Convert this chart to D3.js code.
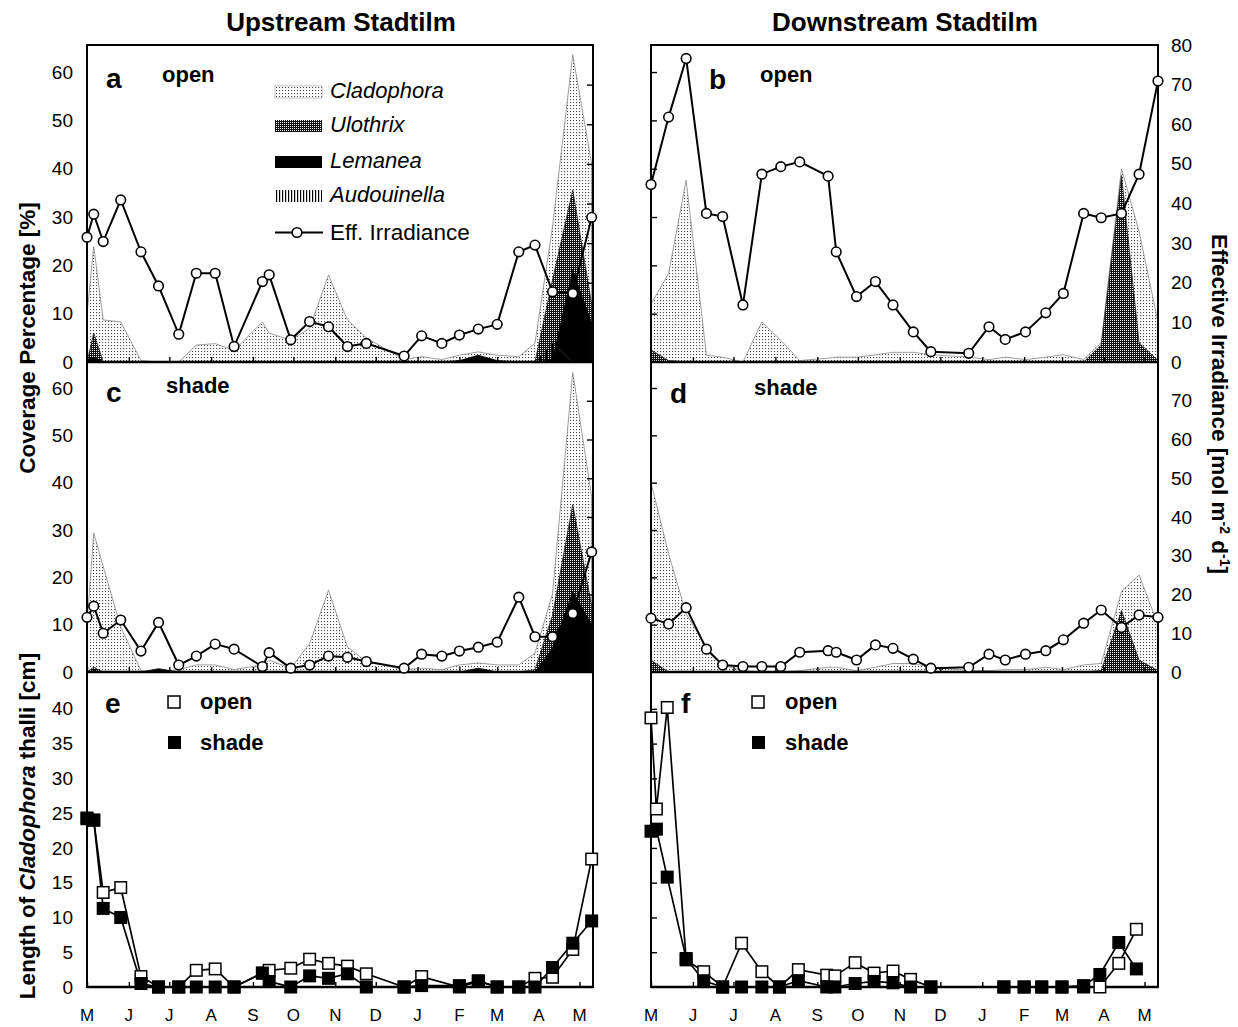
<!DOCTYPE html>
<html>
<head>
<meta charset="utf-8">
<script src="https://cdn.jsdelivr.net/npm/d3@7"></script>
<style>
html,body{margin:0;padding:0;background:#fff;}
svg{display:block;font-family:"Liberation Sans",Arial,Helvetica,sans-serif;}
</style>
</head>
<body>
<svg id="chart" width="1238" height="1027"></svg>
<script>
// ---------------- data ----------------
const monthLabels = ["M","J","J","A","S","O","N","D","J","F","M","A","M"];
const monthStarts = ["1997-05-01","1997-06-01","1997-07-01","1997-08-01","1997-09-01","1997-10-01",
  "1997-11-01","1997-12-01","1998-01-01","1998-02-01","1998-03-01","1998-04-01","1998-05-01"];
const axisStart = "1997-05-01";
const axisEnd = "1998-05-11";

// sampling dates upstream (panels a, c)
const upDates = ["1997-05-01","1997-05-06","1997-05-13","1997-05-26","1997-06-10","1997-06-23","1997-07-08",
  "1997-07-21","1997-08-04","1997-08-18","1997-09-08","1997-09-13","1997-09-29","1997-10-13","1997-10-27",
  "1997-11-10","1997-11-24","1997-12-22","1998-01-04","1998-01-19","1998-02-01","1998-02-15","1998-03-01",
  "1998-03-17","1998-03-29","1998-04-11","1998-04-26","1998-05-10"];
// sampling dates downstream (panels b, d)
const downDates = ["1997-05-01","1997-05-14","1997-05-27","1997-06-11","1997-06-23","1997-07-08","1997-07-22",
  "1997-08-05","1997-08-19","1997-09-09","1997-09-15","1997-09-30","1997-10-14","1997-10-27","1997-11-11",
  "1997-11-24","1997-12-22","1998-01-06","1998-01-18","1998-02-02","1998-02-17","1998-03-02","1998-03-17",
  "1998-03-30","1998-04-14","1998-04-27","1998-05-11"];
// thallus length dates (panel e, f)
const lenUpDates = ["1997-05-01","1997-05-06","1997-05-13","1997-05-26","1997-06-10","1997-06-23","1997-07-08",
  "1997-07-21","1997-08-04","1997-08-18","1997-09-08","1997-09-13","1997-09-29","1997-10-13","1997-10-27",
  "1997-11-10","1997-11-24","1997-12-22","1998-01-04","1998-02-01","1998-02-15","1998-03-01",
  "1998-03-17","1998-03-29","1998-04-11","1998-04-26","1998-05-10"];
const lenDownDates = ["1997-05-01","1997-05-05","1997-05-13","1997-05-27","1997-06-09","1997-06-23","1997-07-07",
  "1997-07-22","1997-08-04","1997-08-18","1997-09-08","1997-09-14","1997-09-29","1997-10-13","1997-10-27",
  "1997-11-09","1997-11-24","1998-01-17","1998-02-01","1998-02-14","1998-03-01","1998-03-17","1998-03-29",
  "1998-04-12","1998-04-25"];

// effective irradiance [mol m-2 d-1]
const irrA = [31.5,37.3,30.4,40.9,27.8,19.2,7.0,22.4,22.4,3.9,20.3,22.0,5.6,10.2,8.9,3.9,4.7,1.5,6.6,4.7,6.8,8.3,9.5,27.8,29.5,17.7,17.3,36.5];
const irrC = [14.1,17.0,10.0,13.4,5.4,12.8,1.8,4.1,7.2,5.9,1.4,5.0,1.0,1.8,4.1,3.8,2.7,1.0,4.6,4.1,5.4,6.4,7.7,19.3,9.1,9.1,15.1,31.0];
const irrB = [44.8,61.8,76.6,37.5,36.7,14.4,47.4,49.3,50.5,46.9,27.8,16.5,20.3,14.4,7.6,2.6,2.2,8.9,5.7,7.6,12.4,17.3,37.5,36.4,37.5,47.4,70.9];
const irrD = [13.9,12.4,16.6,5.9,1.8,1.4,1.4,1.4,5.1,5.5,5.1,3.1,7.0,6.1,3.3,1.0,1.2,4.6,3.1,4.6,5.5,8.3,12.6,16.0,11.5,14.7,14.1];

// coverage [%]
const cladA = [10,23.9,8.7,8.3,0.3,0,0,3.5,3.8,2.4,8.3,6,4.5,7,18,8.7,5,0.5,1.1,0.5,1.4,2.1,1.4,1.1,3.9,28,63.6,41];
const ulotA = [0,6,0,0,0,0,0,0,0,0,0,0,0,0,0,0,0,0,0,0,0,0,0,0,0,17,35.6,12];
const lemA  = [0.5,1,0,0,0,0,0,0,0,0,0,0,0,0,0,0,0,0,0,0,0.3,1.4,0.3,0,0,0.5,19,8];
const audA  = [0,0,0,0,0,0,0,0,0,0,0,0,0,0,0,0,0,0,0,0,0,0,0,0,0,4,0,0];
const cladC = [10,29.4,22.3,9.5,0.3,0,0.5,1.5,1.5,0.5,1.5,2.5,0.8,6,17.3,5.3,2.2,0.5,0.8,0.5,1.5,1.9,1.5,1.5,4,16.5,63.3,37];
const ulotC = [0,1,0,0,0,0,0,0,0,0,0,0,0,0,0,0,0,0,0,0,0,0,0,0,0.5,12,35.4,14];
const lemC  = [0,0.3,0,0,0,0.7,0,0,0,0,0,0,0,0,0,0,0,0,0,0,0,0.8,0,0,0,5,17,10];
const cladB = [12,18.3,37.6,1.4,1,0,8.3,4.5,0.3,0.8,1,1,1.5,2,2,1.5,1,0.5,1,0.5,1,1.5,0.5,4,40,27,8.3];
const ulotB = [2.5,0.3,0,0,0,0,0,0,0,0,0,0,0,0,0,0,0,0,0,0,0,0,0,3.5,38.6,4,0.3];
const cladD = [40,25,12.3,5.3,1.4,0.3,0,0,0.3,1,1,0.3,1,1.8,1.8,1,0.3,0.3,0.5,0.5,1,0.5,1.5,1.8,17,20.5,10];
const ulotD = [2.5,0,0,0,0,0,0,0,0,0,0,0,0,0,0,0,0,0,0,0,0,0,0,0.3,13,2.5,0.3];

// length of Cladophora thalli [cm]
const lenOpenE  = [24.2,24.0,13.6,14.3,1.5,0,0,2.4,2.6,0,2.0,2.4,2.7,4.0,3.4,3.0,1.9,0,1.5,0,0.8,0,0,1.25,1.4,5.4,18.4];
const lenShadeE = [24.3,24.0,11.3,10.0,0.5,0,0,0,0,0,2.0,0.8,0,1.6,1.25,1.9,0,0,0.2,0.2,0.9,0,0,0,2.8,6.3,9.5];
const lenOpenF  = [38.7,25.6,40.2,3.9,2.2,0,6.3,2.2,0,2.5,1.7,1.6,3.5,2.0,2.3,1.1,0,0,0,0,0,0,0,3.4,8.3];
const lenShadeF = [22.4,22.7,15.8,4.1,0.9,0,0,0,0,0.9,0,0,0.5,0.8,0.6,0,0,0,0,0,0,0.2,1.8,6.4,2.6];

const covTicks = [0,10,20,30,40,50,60];
const irrTicksTop = [0,10,20,30,40,50,60,70,80];
const irrTicksMid = [0,10,20,30,40,50,60,70];
const lenTicks = [0,5,10,15,20,25,30,35,40];

// ---------------- layout ----------------
const parse = d3.timeParse("%Y-%m-%d");
const svg = d3.select("#chart");
svg.append("rect").attr("width",1238).attr("height",1027).attr("fill","#fff");

const cols = [{x0:87,x1:593},{x0:651,x1:1158}];
const rows = [{y0:45,y1:362},{y0:362,y1:672},{y0:672,y1:987}];

const defs = svg.append("defs");
const pDots = defs.append("pattern").attr("id","dots").attr("patternUnits","userSpaceOnUse").attr("width",3).attr("height",3);
pDots.append("rect").attr("width",3).attr("height",3).attr("fill","#fff");
pDots.append("rect").attr("width",1.1).attr("height",1.1).attr("fill","#4a4a4a");
const pCross = defs.append("pattern").attr("id","cross").attr("patternUnits","userSpaceOnUse").attr("width",2).attr("height",2);
pCross.append("rect").attr("width",2).attr("height",2).attr("fill","#111");
pCross.append("rect").attr("width",1).attr("height",1).attr("fill","#fff");
const pVert = defs.append("pattern").attr("id","vert").attr("patternUnits","userSpaceOnUse").attr("width",3).attr("height",3);
pVert.append("rect").attr("width",1.2).attr("height",3).attr("fill","#000");

function xScale(c){ return d3.scaleTime().domain([parse(axisStart), parse(axisEnd)]).range([cols[c].x0, cols[c].x1]); }

let clipN = 0;
function clipFor(c,r){
  const id = "clip"+(clipN++);
  defs.append("clipPath").attr("id",id).append("rect")
    .attr("x",cols[c].x0).attr("y",rows[r].y0).attr("width",cols[c].x1-cols[c].x0).attr("height",rows[r].y1-rows[r].y0);
  return "url(#"+id+")";
}

function drawAreas(c, r, dates, yc, series){
  const xs = xScale(c);
  const g = svg.append("g").attr("clip-path", clipFor(c,r));
  series.forEach(s=>{
    const pts = dates.map((d,i)=>({d:parse(d), v:s.vals[i]}));
    g.append("path").datum(pts)
      .attr("d", d3.area().x(p=>xs(p.d)).y0(yc(0)).y1(p=>yc(p.v)))
      .attr("fill", s.fill).attr("stroke", s.stroke).attr("stroke-width", 0.8);
  });
}

function drawIrr(c, dates, yi, vals){
  const xs = xScale(c);
  const pts = dates.map((d,i)=>({d:parse(d), v:vals[i]}));
  svg.append("path").datum(pts)
    .attr("d", d3.line().x(p=>xs(p.d)).y(p=>yi(p.v)))
    .attr("fill","none").attr("stroke","#000").attr("stroke-width",2);
  svg.append("g").selectAll("circle").data(pts).join("circle")
    .attr("cx",p=>xs(p.d)).attr("cy",p=>yi(p.v)).attr("r",4.8)
    .attr("fill","#fff").attr("stroke","#000").attr("stroke-width",1.6);
}

function drawLen(c, dates, yl, openVals, shadeVals){
  const xs = xScale(c);
  const mk = vals => dates.map((d,i)=>({d:parse(d), v:vals[i]}));
  const po = mk(openVals), ps = mk(shadeVals);
  const line = d3.line().x(p=>xs(p.d)).y(p=>yl(p.v));
  svg.append("path").datum(po).attr("d",line).attr("fill","none").attr("stroke","#000").attr("stroke-width",1.7);
  svg.append("path").datum(ps).attr("d",line).attr("fill","none").attr("stroke","#000").attr("stroke-width",1.7);
  const s = 11.5;
  svg.append("g").selectAll("rect").data(po).join("rect")
    .attr("x",p=>xs(p.d)-s/2).attr("y",p=>yl(p.v)-s/2).attr("width",s).attr("height",s)
    .attr("fill","#fff").attr("stroke","#000").attr("stroke-width",1.5);
  svg.append("g").selectAll("rect").data(ps).join("rect")
    .attr("x",p=>xs(p.d)-s/2).attr("y",p=>yl(p.v)-s/2).attr("width",s).attr("height",s)
    .attr("fill","#000").attr("stroke","#000").attr("stroke-width",1.5);
}

function frame(c,r){
  svg.append("rect").attr("x",cols[c].x0).attr("y",rows[r].y0)
    .attr("width",cols[c].x1-cols[c].x0).attr("height",rows[r].y1-rows[r].y0)
    .attr("fill","none").attr("stroke","#000").attr("stroke-width",2);
  svg.append("line").attr("x1",cols[c].x0).attr("x2",cols[c].x1).attr("y1",rows[r].y1).attr("y2",rows[r].y1)
    .attr("stroke","#000").attr("stroke-width",2.6);
  const xs = xScale(c);
  const ax = svg.append("g").attr("transform","translate(0,"+rows[r].y1+")")
    .call(d3.axisTop(xs).tickValues(monthStarts.map(parse)).tickSize(5).tickFormat(""));
  ax.select(".domain").remove();
  ax.selectAll("line").attr("stroke-width",1.4);
}

function styleAxis(g, size){
  g.select(".domain").remove();
  g.selectAll("text").attr("font-size",size).attr("fill","#000");
  g.selectAll("line").attr("stroke-width",1.4);
}

// scales
const yCov1 = d3.scaleLinear().domain([0,65.6]).range([rows[0].y1, rows[0].y0]);
const yIrr1 = d3.scaleLinear().domain([0,80]).range([rows[0].y1, rows[0].y0]);
const yCov2 = d3.scaleLinear().domain([0,65.5]).range([rows[1].y1, rows[1].y0]);
const yIrr2 = d3.scaleLinear().domain([0,80]).range([rows[1].y1, rows[1].y0]);
const yLen  = d3.scaleLinear().domain([0,45.3]).range([rows[2].y1, rows[2].y0]);

const clad = {fill:"url(#dots)", stroke:"#888"};
const ulot = {fill:"url(#cross)", stroke:"#222"};
const lem  = {fill:"#000", stroke:"#000"};
const aud  = {fill:"url(#vert)", stroke:"#333"};

// areas
drawAreas(0,0,upDates,yCov1,[{...clad,vals:cladA},{...ulot,vals:ulotA},{...lem,vals:lemA},{...aud,vals:audA}]);
drawAreas(0,1,upDates,yCov2,[{...clad,vals:cladC},{...ulot,vals:ulotC},{...lem,vals:lemC}]);
drawAreas(1,0,downDates,yCov1,[{...clad,vals:cladB},{...ulot,vals:ulotB}]);
drawAreas(1,1,downDates,yCov2,[{...clad,vals:cladD},{...ulot,vals:ulotD}]);

// frames
for (let c=0;c<2;c++) for (let r=0;r<3;r++) frame(c,r);

// left axes (labels)
styleAxis(svg.append("g").attr("transform","translate("+cols[0].x0+",0)").call(d3.axisLeft(yCov1).tickValues(covTicks).tickSize(0).tickPadding(14)),19);
styleAxis(svg.append("g").attr("transform","translate("+cols[0].x0+",0)").call(d3.axisLeft(yCov2).tickValues(covTicks).tickSize(0).tickPadding(14)),19);
styleAxis(svg.append("g").attr("transform","translate("+cols[0].x0+",0)").call(d3.axisLeft(yLen).tickValues(lenTicks).tickSize(0).tickPadding(14)),19);
// inner ticks of coverage on right column left edge
styleAxis(svg.append("g").attr("transform","translate("+cols[1].x0+",0)").call(d3.axisRight(yCov1).tickValues(covTicks.slice(1)).tickSize(6).tickFormat("")),19);
styleAxis(svg.append("g").attr("transform","translate("+cols[1].x0+",0)").call(d3.axisRight(yCov2).tickValues(covTicks.slice(1)).tickSize(6).tickFormat("")),19);
styleAxis(svg.append("g").attr("transform","translate("+cols[1].x0+",0)").call(d3.axisRight(yLen).tickValues(lenTicks.slice(1)).tickSize(6).tickFormat("")),19);
// irradiance inner ticks on left column right edge
styleAxis(svg.append("g").attr("transform","translate("+cols[0].x1+",0)").call(d3.axisLeft(yIrr1).tickValues(irrTicksMid.slice(1)).tickSize(6).tickFormat("")),19);
styleAxis(svg.append("g").attr("transform","translate("+cols[0].x1+",0)").call(d3.axisLeft(yIrr2).tickValues(irrTicksMid.slice(1)).tickSize(6).tickFormat("")),19);
// right axis labels
styleAxis(svg.append("g").attr("transform","translate("+cols[1].x1+",0)").call(d3.axisRight(yIrr1).tickValues(irrTicksTop).tickSize(0).tickPadding(13)),19);
styleAxis(svg.append("g").attr("transform","translate("+cols[1].x1+",0)").call(d3.axisRight(yIrr2).tickValues(irrTicksMid).tickSize(0).tickPadding(13)),19);

// month labels
[0,1].forEach(c=>{
  const xs = xScale(c);
  svg.append("g").selectAll("text").data(monthStarts).join("text")
    .attr("x",d=>xs(parse(d))).attr("y",1021).attr("text-anchor","middle")
    .attr("font-size",17).text((d,i)=>monthLabels[i]);
});

// irradiance lines
drawIrr(0, upDates, yIrr1, irrA);
drawIrr(0, upDates, yIrr2, irrC);
drawIrr(1, downDates, yIrr1, irrB);
drawIrr(1, downDates, yIrr2, irrD);

// lengths
drawLen(0, lenUpDates, yLen, lenOpenE, lenShadeE);
drawLen(1, lenDownDates, yLen, lenOpenF, lenShadeF);

// ---------------- text ----------------
function txt(x,y,s,size,opts={}){
  const t = svg.append("text").attr("x",x).attr("y",y).attr("font-size",size).text(s);
  if (opts.bold) t.attr("font-weight","bold");
  if (opts.italic) t.attr("font-style","italic");
  if (opts.anchor) t.attr("text-anchor",opts.anchor);
  return t;
}
txt(341,31,"Upstream Stadtilm",26,{bold:true,anchor:"middle"});
txt(905,31,"Downstream Stadtilm",26,{bold:true,anchor:"middle"});

txt(106,88,"a",28,{bold:true});
txt(162,82,"open",22,{bold:true});
txt(709,89,"b",28,{bold:true});
txt(760,82,"open",22,{bold:true});
txt(106,402,"c",28,{bold:true});
txt(166,393,"shade",22,{bold:true});
txt(670,403,"d",28,{bold:true});
txt(754,395,"shade",22,{bold:true});
txt(105,713,"e",28,{bold:true});
txt(681,713,"f",28,{bold:true});

// legend (panel a)
const legItems = [
  {name:"Cladophora", fill:"url(#dots)", stroke:"#999", y:86},
  {name:"Ulothrix", fill:"url(#cross)", stroke:"none", y:120},
  {name:"Lemanea", fill:"#000", stroke:"none", y:156},
  {name:"Audouinella", fill:"url(#vert)", stroke:"none", y:190}
];
legItems.forEach(it=>{
  svg.append("rect").attr("x",275).attr("y",it.y).attr("width",47).attr("height",12)
    .attr("fill",it.fill).attr("stroke",it.stroke).attr("stroke-width",0.6);
  txt(330,it.y+12,it.name,22,{italic:true});
});
svg.append("line").attr("x1",275).attr("x2",323).attr("y1",232.5).attr("y2",232.5).attr("stroke","#000").attr("stroke-width",1.8);
svg.append("circle").attr("cx",297).attr("cy",232.5).attr("r",4.8).attr("fill","#fff").attr("stroke","#000").attr("stroke-width",1.6);
txt(330,240,"Eff. Irradiance",22.5);

// legends e, f
[[174,200],[758,785]].forEach(([sx,tx])=>{
  svg.append("rect").attr("x",sx-6).attr("y",696).attr("width",12).attr("height",12).attr("fill","#fff").attr("stroke","#000").attr("stroke-width",1.5);
  txt(tx,709,"open",22,{bold:true});
  svg.append("rect").attr("x",sx-6).attr("y",736).attr("width",13).attr("height",13).attr("fill","#000");
  txt(tx,750,"shade",22,{bold:true});
});

// axis titles
svg.append("text").attr("transform","translate(35,338) rotate(-90)").attr("text-anchor","middle")
  .attr("font-size",22.5).attr("font-weight","bold").text("Coverage Percentage [%]");
const lt = svg.append("text").attr("transform","translate(35,826) rotate(-90)").attr("text-anchor","middle")
  .attr("font-size",22.5).attr("font-weight","bold");
lt.append("tspan").text("Length of ");
lt.append("tspan").attr("font-style","italic").text("Cladophora");
lt.append("tspan").text(" thalli [cm]");
const rt = svg.append("text").attr("transform","translate(1212,404) rotate(90)").attr("text-anchor","middle")
  .attr("font-size",22.5).attr("font-weight","bold");
rt.append("tspan").text("Effective Irradiance [mol m");
rt.append("tspan").attr("font-size",14).attr("dy",-8).text("-2");
rt.append("tspan").attr("dy",8).text(" d");
rt.append("tspan").attr("font-size",14).attr("dy",-8).text("-1");
rt.append("tspan").attr("dy",8).text("]");
</script>
</body>
</html>
